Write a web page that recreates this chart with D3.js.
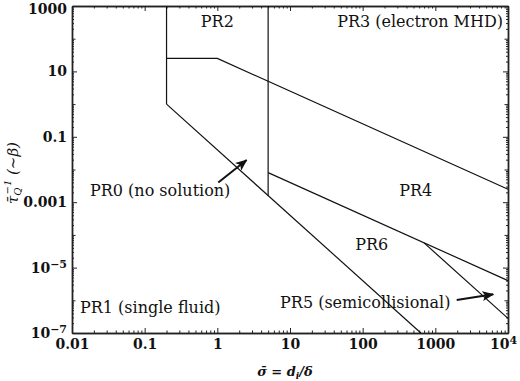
<!DOCTYPE html>
<html>
<head>
<meta charset="utf-8">
<script src="https://cdn.jsdelivr.net/npm/d3@7"></script>
<style>
  body { margin: 0; background: #fff; }
  svg { display: block; }
  .tick line { stroke: #222; }
  .domain { stroke: #222; }
</style>
</head>
<body>
<div id="chart"></div>
<script>
// boundaries between regimes, in data units [sigma, tauInv]
const pr2Left = [[0.2, 1000], [0.2, 1]];
const pr0Edge = [[0.2, 1], [632, 1e-7]];
const pr2Bottom = [[0.2, 25], [1, 25], [1e4, 0.0025]];
const pr2Right = [[5, 1000], [5, 0.0016]];
const pr4Bottom = [[5, 0.008], [1e4, 4e-6]];
const pr5Top = [[700, 5.7e-5], [1e4, 2.8e-7]];
const boundaries = [pr2Left, pr0Edge, pr2Bottom, pr2Right, pr4Bottom, pr5Top];

const arrows = [
    [[1.03, 0.004], [2.53, 0.0195]],
    [[1968, 1.02e-6], [6266, 1.52e-6]]
];

const regionLabels = [
    { text: "PR2", x: 1, y: 230, anchor: "middle" },
    { text: "PR3 (electron MHD)", x: 8530, y: 230, anchor: "end" },
    { text: "PR0 (no solution)", x: 0.0177, y: 0.00155, anchor: "start" },
    { text: "PR4", x: 537, y: 0.00155, anchor: "middle" },
    { text: "PR6", x: 133, y: 3.5e-5, anchor: "middle" },
    { text: "PR5 (semicollisional)", x: 7.3, y: 5.7e-7, anchor: "start" },
    { text: "PR1 (single fluid)", x: 0.0129, y: 4.2e-7, anchor: "start" }
];

const xTicks = [0.01, 0.1, 1, 10, 100, 1000, 1e4];
const xTickLabels = ["0.01", "0.1", "1", "10", "100", "1000", "10^4"];
const yTicks = [1000, 10, 0.1, 0.001, 1e-5, 1e-7];
const yTickLabels = ["1000", "10", "0.1", "0.001", "10^−5", "10^−7"];

const width = 520, height = 381;
const margin = { top: 6, right: 12, bottom: 48, left: 72 };
const serif = "'DejaVu Serif', 'Liberation Serif', serif";

const svg = d3.select("#chart").append("svg")
    .attr("width", width)
    .attr("height", height);

const x = d3.scaleLog().domain([0.01, 1e4]).range([margin.left, width - margin.right]);
const y = d3.scaleLog().domain([1e-7, 1000]).range([height - margin.bottom, margin.top]);

// minor ticks: 2..9 in each decade, plus every decade
const xMinor = [];
for (let e = -2; e < 4; e++) for (let m = 2; m <= 9; m++) xMinor.push(m * Math.pow(10, e));
const yMinor = [];
for (let e = -7; e < 3; e++) for (let m = 2; m <= 9; m++) yMinor.push(m * Math.pow(10, e));
const yMid = d3.range(-7, 4).map(e => Math.pow(10, e)).filter(v => !yTicks.some(t => Math.abs(Math.log10(t) - Math.log10(v)) < 1e-6));

function supLabel(sel, labels, ticks) {
    sel.selectAll(".tick text").each(function(d) {
        const i = ticks.findIndex(t => Math.abs(Math.log10(t) - Math.log10(d)) < 1e-6);
        const lab = labels[i];
        const t = d3.select(this).text("");
        if (lab.includes("^")) {
            const [b, p] = lab.split("^");
            t.append("tspan").text(b);
            t.append("tspan").attr("dy", "-0.45em").style("font-size", "11px").text(p);
        } else {
            t.text(lab);
        }
    });
}

// bottom
const gx = svg.append("g").attr("transform", `translate(0,${height - margin.bottom})`);
gx.call(d3.axisBottom(x).tickValues(xMinor).tickFormat("").tickSizeInner(-2.5).tickSizeOuter(0));
gx.append("g").call(d3.axisBottom(x).tickValues(xTicks).tickSizeInner(-5).tickSizeOuter(0).tickPadding(6))
    .call(g => supLabel(g, xTickLabels, xTicks));
// keep the last label inside the window
gx.selectAll(".tick text").filter(d => d === 1e4).attr("dx", -5);

// top
const gxt = svg.append("g").attr("transform", `translate(0,${margin.top})`);
gxt.call(d3.axisTop(x).tickValues(xMinor).tickFormat("").tickSizeInner(-2.5).tickSizeOuter(0));
gxt.append("g").call(d3.axisTop(x).tickValues(xTicks).tickFormat("").tickSizeInner(-5).tickSizeOuter(0));

// left
const gy = svg.append("g").attr("transform", `translate(${margin.left},0)`);
gy.call(d3.axisLeft(y).tickValues(yMinor).tickFormat("").tickSizeInner(-2).tickSizeOuter(0));
gy.append("g").call(d3.axisLeft(y).tickValues(yMid).tickFormat("").tickSizeInner(-3.5).tickSizeOuter(0));
gy.append("g").call(d3.axisLeft(y).tickValues(yTicks).tickSizeInner(-5).tickSizeOuter(0).tickPadding(5))
    .call(g => supLabel(g, yTickLabels, yTicks));
gy.selectAll(".tick text").filter(d => d === 1000).attr("dy", "0.55em");

// right
const gyr = svg.append("g").attr("transform", `translate(${width - margin.right},0)`);
gyr.call(d3.axisRight(y).tickValues(yMinor).tickFormat("").tickSizeInner(-2).tickSizeOuter(0));
gyr.append("g").call(d3.axisRight(y).tickValues(yMid).tickFormat("").tickSizeInner(-3.5).tickSizeOuter(0));
gyr.append("g").call(d3.axisRight(y).tickValues(yTicks).tickFormat("").tickSizeInner(-5).tickSizeOuter(0));

svg.selectAll(".tick text")
    .style("font-family", serif)
    .style("font-weight", "bold")
    .style("font-size", "14px")
    .attr("fill", "#111");
svg.selectAll(".domain").attr("stroke-width", 1.3);

const line = d3.line().x(d => x(d[0])).y(d => y(d[1]));

svg.append("g").selectAll("path")
    .data(boundaries)
    .enter().append("path")
    .attr("d", line)
    .attr("fill", "none")
    .attr("stroke", "#111")
    .attr("stroke-width", 1.2);

// arrows
svg.append("defs").append("marker")
    .attr("id", "head")
    .attr("viewBox", "0 0 12 10")
    .attr("refX", 11).attr("refY", 5)
    .attr("markerWidth", 12).attr("markerHeight", 10)
    .attr("markerUnits", "userSpaceOnUse")
    .attr("orient", "auto")
    .append("path")
    .attr("d", "M0,0 L12,5 L0,10 L3,5 Z")
    .attr("fill", "#111");

svg.append("g").selectAll("path")
    .data(arrows)
    .enter().append("path")
    .attr("d", line)
    .attr("stroke", "#111")
    .attr("stroke-width", 2)
    .attr("marker-end", "url(#head)");

svg.append("g").selectAll("text")
    .data(regionLabels)
    .enter().append("text")
    .attr("x", d => x(d.x))
    .attr("y", d => y(d.y))
    .attr("text-anchor", d => d.anchor)
    .style("font-family", serif)
    .style("font-size", "16px")
    .attr("fill", "#111")
    .text(d => d.text);

// axis titles
const xt = svg.append("text")
    .attr("x", x(8.5))
    .attr("y", height - 5)
    .attr("text-anchor", "middle")
    .style("font-family", serif)
    .style("font-style", "italic")
    .style("font-weight", "bold")
    .style("font-size", "13px")
    .attr("fill", "#111");
xt.append("tspan").text("σ\u0304 = d");
xt.append("tspan").attr("dy", 3).style("font-size", "9px").text("i");
xt.append("tspan").attr("dy", -3).text("/δ");

const yt = svg.append("text")
    .attr("transform", `translate(18,${y(0.0078)}) rotate(-90)`)
    .attr("text-anchor", "middle")
    .style("font-family", serif)
    .style("font-style", "italic")
    .style("font-size", "15px")
    .attr("fill", "#111");
yt.append("tspan").text("τ\u0304");
yt.append("tspan").attr("dy", 3).style("font-size", "10px").text("Q");
yt.append("tspan").attr("dx", -7).attr("dy", -10).style("font-size", "10px").text("−1");
yt.append("tspan").attr("dy", 7).text(" (∼β)");
</script>
</body>
</html>
